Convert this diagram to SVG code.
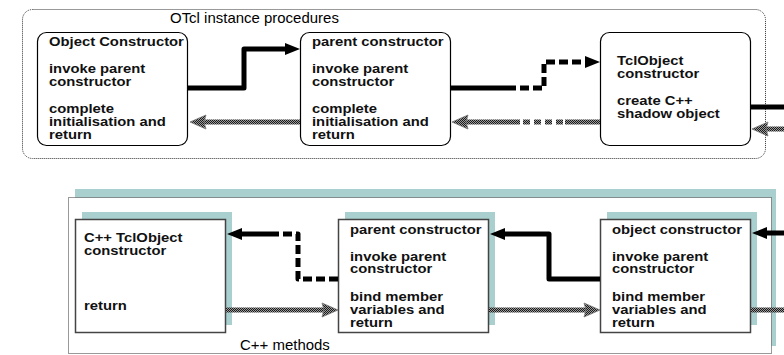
<svg xmlns="http://www.w3.org/2000/svg" width="784" height="355" viewBox="0 0 784 355">
  <defs>
    <!-- dithered grey used for the return paths -->
    <pattern id="hatch" width="2" height="2" patternUnits="userSpaceOnUse">
      <rect width="2" height="2" fill="#9a9a9a"/>
      <rect width="1" height="1" fill="#1a1a1a"/>
      <rect x="1" y="1" width="1" height="1" fill="#1a1a1a"/>
    </pattern>
    <style>
      .frame { fill: none; stroke: #333; stroke-width: 1; stroke-dasharray: 1 1; }
      .frameW { fill: #fff; stroke: #333; stroke-width: 1; stroke-dasharray: 1 1; }
      .teal { fill: #a9cfcf; }
      .rbox { fill: #fff; stroke: #000; stroke-width: 1.2; }
      .sbox { fill: #fff; stroke: #444; stroke-width: 1.5; }
      .lbl { font-family: "Liberation Sans", Arial, sans-serif; font-size: 14px; fill: #000; }
      .t { font-family: "Liberation Sans", Arial, sans-serif; font-size: 13px; font-weight: bold; fill: #111; }
      .call { fill: none; stroke: #000; stroke-width: 5; stroke-linejoin: round; }
      .callD { fill: none; stroke: #000; stroke-width: 5; stroke-dasharray: 9 4; stroke-linejoin: round; }
      .ret { fill: none; stroke: url(#hatch); stroke-width: 5; }
      .retD { fill: none; stroke: url(#hatch); stroke-width: 5; stroke-dasharray: 7 4; }
      .headK { fill: #000; }
      .headG { fill: url(#hatch); stroke: #777; stroke-width: 0.8; }
    </style>
  </defs>

  <!-- OTcl instance procedures region -->
  <rect class="frame" x="22.5" y="9.5" width="743" height="149" rx="10"/>
  <g transform="translate(170,0) scale(1.07,1)">
    <text class="lbl" x="0" y="23">OTcl instance procedures</text>
  </g>

  <!-- C++ methods region -->
  <rect class="teal" x="75" y="189" width="701" height="157"/>
  <rect class="frameW" x="68.5" y="197.5" width="703" height="156"/>
  <g transform="translate(240,0) scale(1.07,1)">
    <text class="lbl" x="0" y="350">C++ methods</text>
  </g>

  <!-- node labels are set in a slightly widened bold face -->
  <g id="otcl-object-constructor">
    <rect class="rbox" x="37.5" y="32.5" width="150" height="113" rx="9"/>
    <g transform="translate(49,0) scale(1.14,1)">
      <text class="t" x="0" y="46">Object Constructor</text>
      <text class="t" x="0" y="73">invoke parent</text>
      <text class="t" x="0" y="86">constructor</text>
      <text class="t" x="0" y="113">complete</text>
      <text class="t" x="0" y="126">initialisation and</text>
      <text class="t" x="0" y="139">return</text>
    </g>
  </g>

  <g id="otcl-parent-constructor">
    <rect class="rbox" x="300.5" y="32.5" width="150" height="113" rx="9"/>
    <g transform="translate(312,0) scale(1.14,1)">
      <text class="t" x="0" y="46">parent constructor</text>
      <text class="t" x="0" y="73">invoke parent</text>
      <text class="t" x="0" y="86">constructor</text>
      <text class="t" x="0" y="113">complete</text>
      <text class="t" x="0" y="126">initialisation and</text>
      <text class="t" x="0" y="139">return</text>
    </g>
  </g>

  <g id="otcl-tclobject-constructor">
    <rect class="rbox" x="600.5" y="32.5" width="150" height="113" rx="9"/>
    <g transform="translate(617,0) scale(1.14,1)">
      <text class="t" x="0" y="65">TclObject</text>
      <text class="t" x="0" y="78">constructor</text>
      <text class="t" x="0" y="105">create C++</text>
      <text class="t" x="0" y="118">shadow object</text>
    </g>
  </g>

  <g id="cpp-tclobject-constructor">
    <rect class="teal" x="82" y="212" width="150" height="113"/>
    <rect class="sbox" x="75.5" y="219.5" width="150" height="113"/>
    <g transform="translate(84,0) scale(1.14,1)">
      <text class="t" x="0" y="242">C++ TclObject</text>
      <text class="t" x="0" y="255">constructor</text>
      <text class="t" x="0" y="310">return</text>
    </g>
  </g>

  <g id="cpp-parent-constructor">
    <rect class="teal" x="345" y="212" width="150" height="113"/>
    <rect class="sbox" x="338.5" y="219.5" width="150" height="113"/>
    <g transform="translate(350,0) scale(1.14,1)">
      <text class="t" x="0" y="234">parent constructor</text>
      <text class="t" x="0" y="261">invoke parent</text>
      <text class="t" x="0" y="273">constructor</text>
      <text class="t" x="0" y="301">bind member</text>
      <text class="t" x="0" y="314">variables and</text>
      <text class="t" x="0" y="327">return</text>
    </g>
  </g>

  <g id="cpp-object-constructor">
    <rect class="teal" x="607" y="212" width="150" height="113"/>
    <rect class="sbox" x="600.5" y="219.5" width="150" height="113"/>
    <g transform="translate(612,0) scale(1.14,1)">
      <text class="t" x="0" y="234">object constructor</text>
      <text class="t" x="0" y="261">invoke parent</text>
      <text class="t" x="0" y="273">constructor</text>
      <text class="t" x="0" y="301">bind member</text>
      <text class="t" x="0" y="314">variables and</text>
      <text class="t" x="0" y="327">return</text>
    </g>
  </g>

  <g id="connectors">
    <!-- OTcl: calls down the hierarchy -->
    <path class="call" d="M188,88 H244 V49 H287"/>
    <polygon class="headK" points="300,49 285,43 285,55"/>
    <path class="call" d="M451,88 H507"/>
    <path class="callD" d="M507,88 H544 V62 H588"/>
    <polygon class="headK" points="600,62 585,56 585,68"/>
    <path class="call" d="M751,107 H784"/>

    <!-- OTcl: returns -->
    <path class="ret" d="M600,122 H565"/>
    <path class="retD" d="M563,122 H519"/>
    <path class="ret" d="M520,122 H464"/>
    <polygon class="headG" points="452,122 468,115 466,122 468,129"/>
    <path class="ret" d="M300,122 H202"/>
    <polygon class="headG" points="190,122 206,115 204,122 206,129"/>
    <path class="ret" d="M784,129 H764"/>
    <polygon class="headG" points="752,129 768,122 766,129 768,136"/>

    <!-- C++: calls -->
    <path class="call" d="M784,233 H764"/>
    <polygon class="headK" points="752,233 767,227 767,239"/>
    <path class="call" d="M600,279 H549 V234 H502"/>
    <polygon class="headK" points="490,234 505,228 505,240"/>
    <path class="callD" d="M338,279 H298 V234 H268"/>
    <path class="call" d="M270,234 H238"/>
    <polygon class="headK" points="227,234 242,228 242,240"/>

    <!-- C++: returns -->
    <path class="ret" d="M226,310 H326"/>
    <polygon class="headG" points="338,310 322,303 324,310 322,317"/>
    <path class="ret" d="M489,310 H588"/>
    <polygon class="headG" points="600,310 584,303 586,310 584,317"/>
    <path class="ret" d="M751,310 H784"/>
  </g>
</svg>
